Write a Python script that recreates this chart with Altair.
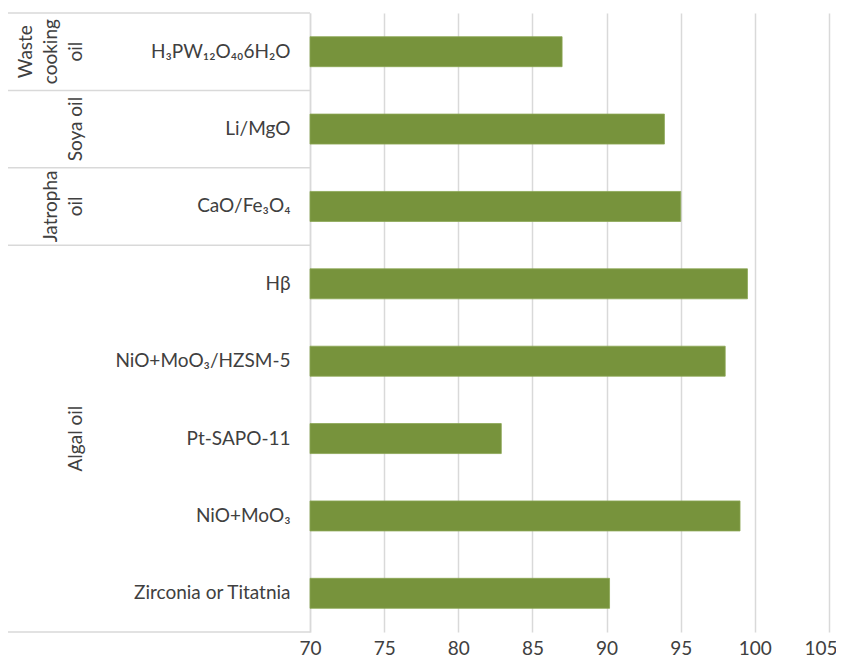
import altair as alt
import pandas as pd

categories = ["H₃PW₁₂O₄₀6H₂O", "Li/MgO", "CaO/Fe₃O₄", "Hβ",
              "NiO+MoO₃/HZSM-5", "Pt-SAPO-11", "NiO+MoO₃", "Zirconia or Titatnia"]
values = [87.0, 93.9, 95.0, 99.5, 98.0, 82.9, 99.0, 90.2]
groups = ["Waste\ncooking\noil", "Soya oil", "Jatropha\noil", "Algal oil",
          "Algal oil", "Algal oil", "Algal oil", "Algal oil"]
x_ticks = [70, 75, 80, 85, 90, 95, 100, 105]

FONT = "Lato"
FS = 19
TXT = "#404040"
GRID = "#d9d9d9"
BAR = "#77933c"
LH = 25          # line height of group labels
GX = -224        # x (px, from plot left) of the last line of group labels

df = pd.DataFrame({"cat": categories, "val": values, "grp": groups})

group_order = []
for g in groups:
    if g not in group_order:
        group_order.append(g)
grp_rows = []
for g in group_order:
    members = [c for c, gg in zip(categories, groups) if gg == g]
    nlines = g.count("\n") + 1
    grp_rows.append({"grp": g, "mid": members[len(members) // 2],
                     "first": members[0], "gx": GX - (nlines - 1) * LH})
gdf = pd.DataFrame(grp_rows)
last_df = pd.DataFrame({"cat": [categories[-1]]})

yscale = alt.Scale(domain=categories, paddingInner=0, paddingOuter=0)

bars = alt.Chart(df).mark_bar(color=BAR, size=30, stroke="#8aa653", strokeWidth=0.8).encode(
    x=alt.X("val:Q", scale=alt.Scale(domain=[70, 105], zero=False, nice=False),
            axis=alt.Axis(values=x_ticks, title=None, grid=True, gridColor=GRID,
                          gridWidth=1.5, domain=False, ticks=False,
                          labelFont=FONT, labelFontSize=FS, labelColor=TXT,
                          labelPadding=7,
                          labelAlign=alt.condition("datum.value >= 105",
                                                   alt.value("right"), alt.value("center")),
                          labelOffset=alt.condition("datum.value >= 105",
                                                    alt.value(8), alt.value(0)))),
    x2=alt.datum(70),
    y=alt.Y("cat:N", sort=categories, scale=yscale,
            axis=alt.Axis(title=None, ticks=False, domain=True, domainColor=GRID,
                          domainWidth=1.5, labelFont=FONT, labelFontSize=FS,
                          labelColor=TXT, labelPadding=20, labelLimit=300)),
)

sep_top = alt.Chart(gdf).mark_rule(color=GRID, strokeWidth=1.5).encode(
    y=alt.Y("first:N", sort=categories, scale=yscale, bandPosition=0),
    x=alt.value(-302), x2=alt.value(0),
)
sep_bottom = alt.Chart(last_df).mark_rule(color=GRID, strokeWidth=1.5).encode(
    y=alt.Y("cat:N", sort=categories, scale=yscale, bandPosition=1),
    x=alt.value(-302), x2=alt.value(0),
)

glabels = alt.Chart(gdf).mark_text(
    angle=270, align="center", baseline="bottom", font=FONT, fontSize=FS,
    color=TXT, lineBreak="\n", lineHeight=LH,
).encode(
    y=alt.Y("mid:N", sort=categories, scale=yscale, bandPosition=0.5),
    x=alt.X("gx:Q", scale=None),
    text="grp:N",
)

chart = alt.layer(bars, sep_top, sep_bottom, glabels).properties(
    width=519, height=619,
    autosize=alt.AutoSizeParams(type="none"),
    padding={"left": 302, "top": 5, "right": 7, "bottom": 27},
).configure_view(stroke=None)

chart.save("out.html", embed_options={"renderer": "svg", "actions": False})
